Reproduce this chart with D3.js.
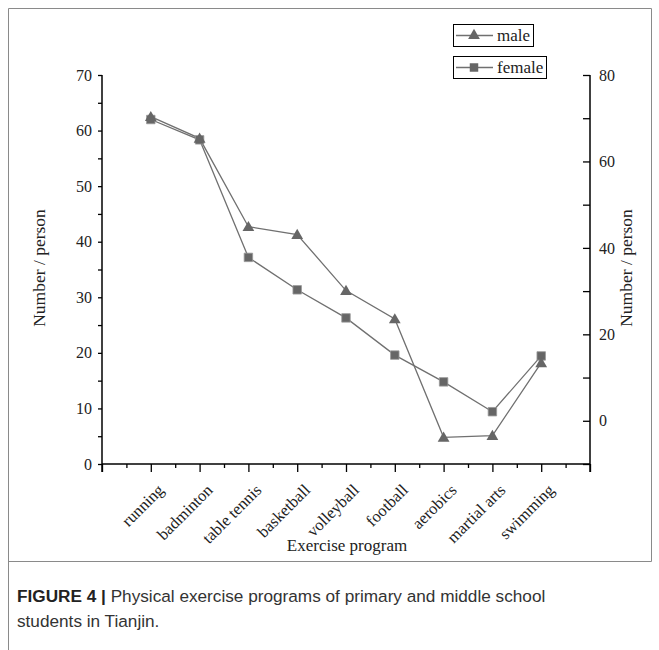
<!DOCTYPE html>
<html><head><meta charset="utf-8">
<script src="https://cdn.jsdelivr.net/npm/d3@7"></script>
<style>body{margin:0;background:#fff}svg{display:block}</style>
</head><body>
<script>
const categories = ["running","badminton","table tennis","basketball","volleyball","football","aerobics","martial arts","swimming"];
const maleValues = [62.5, 58.6, 42.7, 41.3, 31.2, 26.1, 4.8, 5.1, 18.2];     // left axis
const femaleValues = [69.7, 65.0, 37.8, 30.3, 23.8, 15.2, 9.0, 2.1, 15.0];  // right axis
const leftTicks = [0,10,20,30,40,50,60,70];
const rightTicks = [0,20,40,60,80];

const W = 659, H = 650;
const svg = d3.select("body").append("svg").attr("width", W).attr("height", H);
const serif = "'Liberation Serif','Times New Roman',serif";

// frame
svg.append("path").attr("d","M8.5,650 V8.5 H651.5 V561.5 H8.5").attr("fill","none").attr("stroke","#8a8a8a").attr("stroke-width",1);

const x = d3.scaleLinear().domain([0,10]).range([102,590]);
const yL = d3.scaleLinear().domain([0,70]).range([464,75]);
const yR = d3.scaleLinear().domain([-10,80]).range([464,75]);

// x axis
const gx = svg.append("g").attr("transform","translate(0,464)");
gx.call(d3.axisBottom(x).tickValues(d3.range(0,10.01,0.5)).tickSize(4).tickFormat(""));
gx.selectAll(".tick line").attr("y2", d => Number.isInteger(d) ? 8 : 4).attr("stroke","#000").attr("stroke-width",1.3);
gx.select(".domain").attr("d","M102,0H590").attr("stroke","#000").attr("stroke-width",1.5);
categories.forEach((c,i) => {
  const px = x(i+1) + 10, py = 487;
  svg.append("text").attr("transform",`translate(${px},${py}) rotate(-45)`)
    .attr("text-anchor","end").attr("dy","0.35em")
    .attr("font-family",serif).attr("font-size",16.5).attr("fill","#222").text(c);
});
svg.append("text").attr("x",347).attr("y",551).attr("text-anchor","middle")
  .attr("font-family",serif).attr("font-size",17).attr("fill","#222").text("Exercise program");

// left axis
const gl = svg.append("g").attr("transform","translate(102,0)");
gl.call(d3.axisLeft(yL).tickValues(d3.range(0,70.01,5)).tickSize(4).tickPadding(6)
  .tickFormat(d => leftTicks.includes(d) ? d : ""));
gl.select(".domain").attr("d","M0,75V472").attr("stroke","#000").attr("stroke-width",1.5);
gl.selectAll(".tick line").attr("stroke","#000").attr("stroke-width",1.3);
gl.selectAll(".tick text").attr("font-family",serif).attr("font-size",16).attr("fill","#222");
svg.append("text").attr("transform","translate(45,268) rotate(-90)").attr("text-anchor","middle")
  .attr("font-family",serif).attr("font-size",17.5).attr("fill","#222").text("Number / person");

// right axis (ticks point inward)
const gr = svg.append("g").attr("transform","translate(590,0)");
gr.call(d3.axisRight(yR).tickValues(d3.range(-10,80.01,10)).tickSize(0).tickPadding(9)
  .tickFormat(d => rightTicks.includes(d) ? d : ""));
gr.selectAll(".tick line").attr("x2",-7).attr("stroke","#000").attr("stroke-width",1.3);
gr.select(".domain").attr("d","M0,75V472").attr("stroke","#000").attr("stroke-width",1.5);
gr.selectAll(".tick text").attr("font-family",serif).attr("font-size",16).attr("fill","#222");
svg.append("text").attr("transform","translate(632,268) rotate(-90)").attr("text-anchor","middle")
  .attr("font-family",serif).attr("font-size",17.5).attr("fill","#222").text("Number / person");

const lineCol = "#707070", markCol = "#666";
const tri = d3.symbol().type(d3.symbolTriangle).size(60);
const sq = d3.symbol().type(d3.symbolSquare).size(72);

const lineM = d3.line().x((d,i)=>x(i+1)).y(d=>yL(d));
const lineF = d3.line().x((d,i)=>x(i+1)).y(d=>yR(d));
svg.append("path").attr("d",lineF(femaleValues)).attr("fill","none").attr("stroke",lineCol).attr("stroke-width",1.3);
svg.append("path").attr("d",lineM(maleValues)).attr("fill","none").attr("stroke",lineCol).attr("stroke-width",1.3);
svg.selectAll(".fm").data(femaleValues).join("path").attr("d",sq)
  .attr("transform",(d,i)=>`translate(${x(i+1)},${yR(d)})`).attr("fill",markCol).attr("stroke","#999").attr("stroke-width",0.8);
svg.selectAll(".mm").data(maleValues).join("path").attr("d",tri)
  .attr("transform",(d,i)=>`translate(${x(i+1)},${yL(d)+1})`).attr("fill",markCol);

// legend
function legend(y0, w, label, sym){
  svg.append("rect").attr("x",453.5).attr("y",y0+0.5).attr("width",w).attr("height",22).attr("fill","#fff").attr("stroke","#000").attr("stroke-width",1);
  svg.append("line").attr("x1",456).attr("x2",493).attr("y1",y0+11.5).attr("y2",y0+11.5).attr("stroke",lineCol).attr("stroke-width",1.3);
  svg.append("path").attr("d",sym).attr("transform",`translate(474,${y0+11.5})`).attr("fill",markCol);
  svg.append("text").attr("x",497).attr("y",y0+16.5).attr("font-family",serif).attr("font-size",17).attr("fill","#222").text(label);
}
legend(24, 80, "male", tri);
legend(56, 93, "female", sq);

// caption
const capFont = "'Liberation Sans',Arial,sans-serif";
const cap = svg.append("text").attr("font-family",capFont).attr("font-size",17.2).attr("fill","#333");
cap.append("tspan").attr("x",17).attr("y",602).attr("font-weight","bold").attr("fill","#222").text("FIGURE 4 | ");
cap.append("tspan").text("Physical exercise programs of primary and middle school");
svg.append("text").attr("x",17).attr("y",627).attr("font-family",capFont).attr("font-size",17.2).attr("fill","#333").text("students in Tianjin.");
</script>
</body></html>
